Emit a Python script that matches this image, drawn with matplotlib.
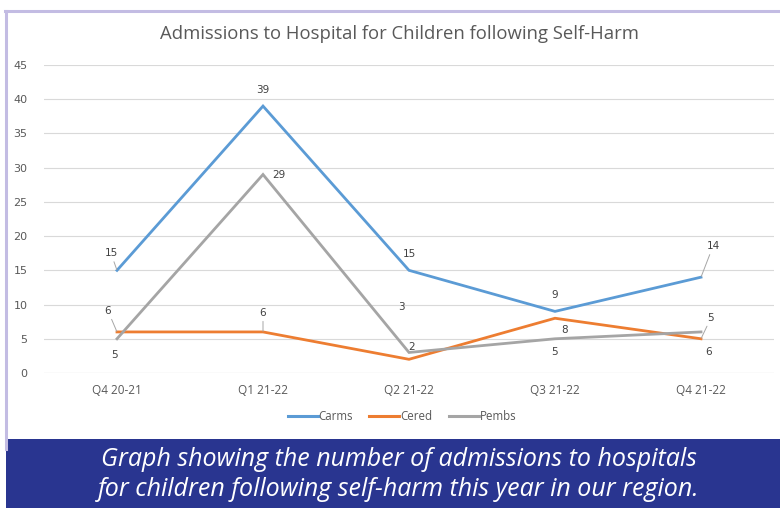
import matplotlib
matplotlib.use('Agg')
import matplotlib.pyplot as plt
from matplotlib.patches import Rectangle
from matplotlib.lines import Line2D

# Data
quarters = ['Q4 20-21', 'Q1 21-22', 'Q2 21-22', 'Q3 21-22', 'Q4 21-22']
carms = [15, 39, 15, 9, 14]
cered = [6, 6, 2, 8, 5]
pembs = [5, 29, 3, 5, 6]
series_names = ['Carms', 'Cered', 'Pembs']
yticks = list(range(0, 50, 5))

colors = ['#5B9BD5', '#ED7D31', '#A5A5A5']
txt_col = '#595959'

# label offsets in pixels (dx, dy, leader line?)
label_offsets = [
    [(-6, 17, True), (0, 16, False), (0, 16, False), (0, 16, False), (12, 31, True)],
    [(-9, 21, True), (0, 19, True), (3, 12, False), (10, -12, False), (10, 21, True)],
    [(-3, -16, False), (16, 0, False), (-8, 45, False), (0, -13, False), (8, -20, False)],
]

fig = plt.figure(figsize=(7.8, 5.08), dpi=100)
W, H = 780, 508

def fx(px):
    return px / W

def fy(py):
    return 1 - py / H

# lavender frame (top and left)
fig.add_artist(Line2D([fx(5), fx(780)], [fy(11), fy(11)], color='#C3BCE3', lw=2.2))
fig.add_artist(Line2D([fx(6), fx(6)], [fy(11), fy(449)], color='#C3BCE3', lw=2.2))

ax = fig.add_axes([fx(44), fy(373), fx(774) - fx(44), fy(65) - fy(373)])
x = list(range(len(quarters)))
all_series = [carms, cered, pembs]
for vals, c, name in zip(all_series, colors, series_names):
    ax.plot(x, vals, color=c, lw=2.0, label=name, solid_joinstyle='miter', zorder=3)

for vals, offs in zip(all_series, label_offsets):
    for i, v in enumerate(vals):
        dx, dy, leader = offs[i]
        ax.annotate(str(v), xy=(i, v), xytext=(dx, dy), textcoords='offset pixels',
                    ha='center', va='center', fontsize=7.5, color='#404040',
                    family='DejaVu Sans',
                    arrowprops=dict(arrowstyle='-', color='#A6A6A6', lw=0.7,
                                    shrinkA=0.5, shrinkB=0.5) if leader else None,
                    zorder=4)

ax.set_xlim(-0.5, len(quarters) - 0.5)
ax.set_ylim(0, 45)
ax.set_yticks(yticks)
ax.set_xticks(x)
ax.set_xticklabels(quarters, family='Open Sans', fontsize=8.5, color=txt_col)
ax.tick_params(axis='y', labelsize=8, labelcolor=txt_col, length=0, pad=12)
ax.tick_params(axis='x', length=0, pad=8)
ax.grid(axis='y', color='#D9D9D9', lw=0.8, zorder=0)
for s in ax.spines.values():
    s.set_visible(False)
ax.axhline(0, color='#D9D9D9', lw=0.8, zorder=1)

fig.text(fx(399), fy(34), 'Admissions to Hospital for Children following Self-Harm',
         ha='center', va='center', fontsize=13.3, color=txt_col, family='Open Sans')

handles = [Line2D([0], [0], color=c, lw=2.2) for c in colors]
fig.legend(handles, series_names, loc='center', bbox_to_anchor=(fx(402), fy(417)),
           ncol=3, frameon=False, handlelength=2.6, handletextpad=0.1,
           columnspacing=1.4, prop={'family': 'Open Sans', 'size': 8.3})
for t in fig.legends[0].get_texts():
    t.set_color(txt_col)

# caption banner
fig.add_artist(Rectangle((fx(6), 0), 1 - fx(6), fy(439), transform=fig.transFigure,
                         facecolor='#293590', edgecolor='none'))
fig.text(fx(399), fy(460), 'Graph showing the number of admissions to hospitals',
         ha='center', va='center', fontsize=18, color='white', style='italic',
         family='Open Sans')
fig.text(fx(399), fy(490), 'for children following self-harm this year in our region.',
         ha='center', va='center', fontsize=18, color='white', style='italic',
         family='Open Sans')

fig.savefig('out.png', dpi=100)
